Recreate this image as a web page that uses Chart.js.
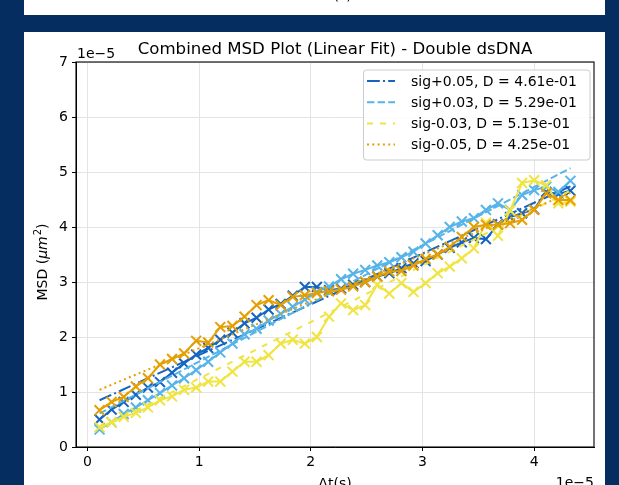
<!DOCTYPE html>
<html><head><meta charset="utf-8">
<script src="https://cdn.jsdelivr.net/npm/chart.js@4/dist/chart.umd.min.js"></script>
<style>html,body{margin:0;padding:0;background:#062d60;}#wrap{width:619px;height:485px;}</style>
</head><body><div id="wrap"><canvas id="c" width="619" height="485"></canvas></div>
<script>
// ---- data (x in units of 1e-5 s, MSD in units of 1e-5 um^2) ----
const lagTimes = [0.108,0.216,0.324,0.433,0.541,0.649,0.757,0.865,0.973,1.081,1.189,1.298,1.406,1.514,1.622,1.730,1.838,1.946,2.054,2.163,2.271,2.379,2.487,2.595,2.703,2.811,2.919,3.028,3.136,3.244,3.352,3.460,3.568,3.676,3.784,3.892,4.000,4.108,4.217,4.325];
const msdSigP05 = [0.50,0.68,0.82,0.95,1.08,1.18,1.35,1.52,1.68,1.80,1.95,2.08,2.25,2.35,2.50,2.60,2.75,2.91,2.91,2.85,2.88,2.95,3.00,3.10,3.16,3.25,3.34,3.38,3.50,3.62,3.72,3.80,3.78,4.05,4.18,4.25,4.32,4.64,4.60,4.66];
const msdSigP03 = [0.32,0.45,0.60,0.72,0.85,0.98,1.12,1.25,1.40,1.55,1.72,1.88,2.05,2.15,2.30,2.42,2.55,2.68,2.82,2.92,3.05,3.15,3.22,3.30,3.36,3.45,3.55,3.70,3.85,4.00,4.10,4.16,4.31,4.43,4.31,4.58,4.67,4.73,4.64,4.84];
const msdSigM03 = [0.36,0.45,0.55,0.62,0.72,0.85,0.92,1.04,1.08,1.19,1.19,1.37,1.55,1.55,1.67,1.88,1.95,1.88,2.00,2.37,2.61,2.49,2.58,2.95,2.79,2.98,2.82,2.98,3.16,3.28,3.43,3.61,4.08,3.84,4.30,4.80,4.85,4.76,4.43,4.46];
const msdSigM05 = [0.67,0.82,0.91,1.10,1.25,1.50,1.60,1.70,1.93,1.90,2.18,2.20,2.37,2.58,2.67,2.58,2.73,2.76,2.80,2.83,2.86,2.92,3.00,3.10,3.19,3.20,3.30,3.42,3.50,3.64,3.82,4.00,4.04,4.04,4.07,4.13,4.31,4.61,4.49,4.49];
const seriesNames = ['sig+0.05','sig+0.03','sig-0.03','sig-0.05'];
const diffCoefs = ['4.61e-01','5.29e-01','5.13e-01','4.25e-01'];
const fitStart = [0.85,0.61,0.33,1.04];
const fitEnd = [4.74,5.07,4.66,4.62];
const xTicks = [0,1,2,3,4];
const yTicks = [0,1,2,3,4,5,6,7];

// ---- styles ----
const colors = ['#1565c0','#56b4e9','#f0e442','#e69f00'];
const dashes = [[12.8,3.2,2,3.2],[7.4,3.2],[6,7],[2,3.3]];
const msdSets = [msdSigP05,msdSigP03,msdSigM03,msdSigM05];
const FONT = "'DejaVu Sans', sans-serif";

const datasets = [];
msdSets.forEach((arr, s) => {
  datasets.push({
    label: seriesNames[s] + ' data',
    data: lagTimes.map((x,i)=>({x:x,y:arr[i]})),
    borderColor: colors[s], backgroundColor: colors[s],
    borderWidth: 2, pointStyle: 'crossRot', pointRadius: 7, pointBorderWidth: 2,
    pointHoverRadius: 7, tension: 0, fill: false, order: 100 - s*2
  });
  datasets.push({
    label: seriesNames[s] + ', D = ' + diffCoefs[s],
    data: [{x: lagTimes[0], y: fitStart[s]}, {x: lagTimes[lagTimes.length-1], y: fitEnd[s]}],
    borderColor: colors[s], backgroundColor: colors[s],
    borderWidth: 2, borderDash: dashes[s], pointRadius: 0, tension: 0, fill: false,
    order: 99 - s*2
  });
});

const bgPlugin = {
  id: 'bg',
  beforeDraw(chart) {
    const c = chart.ctx;
    c.save();
    c.fillStyle = '#062d60';
    c.fillRect(0,0,619,485);
    c.fillStyle = '#ffffff';
    c.fillRect(24,0,581,15);
    c.fillRect(24,32,581,453);
    // cut-off x label of the panel above
    c.fillStyle = '#000';
    c.font = '14px ' + FONT;
    c.textAlign = 'center'; c.textBaseline = 'top';
    c.fillText('\u0394t(s)', 335, -11);
    c.restore();
  }
};

const framePlugin = {
  id: 'frame',
  afterDatasetsDraw(chart) {
    const a = chart.chartArea, c = chart.ctx;
    c.save();
    c.strokeStyle = '#000'; c.lineWidth = 1.1;
    c.strokeRect(a.left, a.top, a.right - a.left, a.bottom - a.top);
    c.restore();
  },
  afterDraw(chart) {
    const a = chart.chartArea, c = chart.ctx;
    c.save();
    c.fillStyle = '#000';
    // title
    c.font = '16.6px ' + FONT;
    c.textAlign = 'center'; c.textBaseline = 'alphabetic';
    c.fillText('Combined MSD Plot (Linear Fit) - Double dsDNA', (a.left + a.right)/2, 54);
    // offset texts
    c.font = '14px ' + FONT;
    c.textAlign = 'left';
    c.fillText('1e\u22125', a.left + 1, 58);
    c.textAlign = 'right'; c.textBaseline = 'top';
    c.fillText('1e\u22125', a.right, 476);
    // x label
    c.textAlign = 'center';
    c.fillText('\u0394t(s)', (a.left + a.right)/2, 477);
    // y label with mathtext
    c.save();
    c.translate(47, 262);
    c.rotate(-Math.PI/2);
    c.textBaseline = 'alphabetic'; c.textAlign = 'left';
    const p1 = 'MSD (', p2 = '\u03bcm', p3 = '2', p4 = ')';
    c.font = '14px ' + FONT; const w1 = c.measureText(p1).width, w4 = c.measureText(p4).width;
    c.font = 'italic 14px ' + FONT; const w2 = c.measureText(p2).width;
    c.font = '10px ' + FONT; const w3 = c.measureText(p3).width;
    let x = -(w1+w2+w3+w4+1)/2;
    c.font = '14px ' + FONT; c.fillText(p1, x, 0); x += w1;
    c.font = 'italic 14px ' + FONT; c.fillText(p2, x, 0); x += w2 + 1;
    c.font = '10px ' + FONT; c.fillText(p3, x, -6); x += w3;
    c.font = '14px ' + FONT; c.fillText(p4, x, 0);
    c.restore();
    // legend
    const lx = 363.5, ly = 70, lw = 226.5, lh = 90;
    c.beginPath();
    c.roundRect(lx, ly, lw, lh, 3);
    c.fillStyle = 'rgba(255,255,255,0.85)'; c.fill();
    c.strokeStyle = '#cccccc'; c.lineWidth = 1; c.stroke();
    c.font = '14px ' + FONT; c.textAlign = 'left'; c.textBaseline = 'middle';
    for (let s = 0; s < 4; s++) {
      const yy = 81 + s*21.2;
      c.beginPath();
      c.setLineDash(dashes[s]);
      c.strokeStyle = colors[s]; c.lineWidth = 2;
      c.moveTo(367, yy); c.lineTo(395, yy); c.stroke();
      c.setLineDash([]);
      c.fillStyle = '#000';
      c.fillText(seriesNames[s] + ', D = ' + diffCoefs[s], 411, yy + 1);
    }
    c.restore();
  }
};

new Chart(document.getElementById('c'), {
  type: 'line',
  data: { datasets },
  options: {
    responsive: false, animation: false, devicePixelRatio: 1,
    layout: { padding: { top: 62, right: 25, left: 0, bottom: 0 } },
    plugins: { legend: { display: false }, title: { display: false }, tooltip: { enabled: false } },
    scales: {
      x: {
        type: 'linear', min: -0.103, max: 4.536,
        afterBuildTicks: s => { s.ticks = xTicks.map(v => ({value: v})); },
        afterFit: s => { s.height = 38; },
        ticks: { font: { family: FONT, size: 14 }, color: '#000', padding: 3, maxRotation: 0, autoSkip: false,
                 callback: v => String(v) },
        grid: { color: '#e4e4e4', lineWidth: 1, tickColor: '#000', tickLength: 4 },
        border: { display: true, color: '#000', width: 1 }
      },
      y: {
        type: 'linear', min: 0, max: 7,
        afterBuildTicks: s => { s.ticks = yTicks.map(v => ({value: v})); },
        afterFit: s => { s.width = 76; },
        ticks: { font: { family: FONT, size: 14 }, color: '#000', padding: 4, autoSkip: false,
                 callback: v => String(v) },
        grid: { color: '#e4e4e4', lineWidth: 1, tickColor: '#000', tickLength: 4 },
        border: { display: true, color: '#000', width: 1 }
      }
    }
  },
  plugins: [bgPlugin, framePlugin]
});
</script></body></html>
